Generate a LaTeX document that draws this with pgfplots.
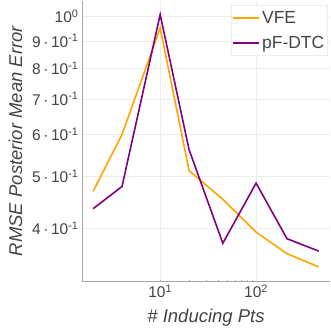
\documentclass[border=0pt]{standalone}
\usepackage{pgfplots}
\pgfplotsset{compat=1.18}
\usepackage{fontspec}
\setmainfont{Liberation Sans}

\definecolor{vfe}{HTML}{FFA500}
\definecolor{pfdtc}{HTML}{800080}
\definecolor{txt}{HTML}{444444}
\definecolor{gridc}{HTML}{EDEDED}

\begin{document}
\begin{tikzpicture}
\useasboundingbox (-82pt,-50pt) rectangle (249pt,281pt);
\begin{axis}[
    at={(0,0)}, anchor=south west,
    scale only axis,
    width=248pt, height=280pt,
    xmode=log, ymode=log,
    xmin=1.53, xmax=590,
    ymin=0.318, ymax=1.07,
    axis x line=bottom, axis y line=left,
    axis line style={gray!70, -},
    xtick={10,100},
    xticklabels={10\textsuperscript{1},10\textsuperscript{2}},
    ytick={0.4,0.5,0.6,0.7,0.8,0.9,1},
    yticklabels={4\,·\,10\textsuperscript{-1},5\,·\,10\textsuperscript{-1},6\,·\,10\textsuperscript{-1},7\,·\,10\textsuperscript{-1},8\,·\,10\textsuperscript{-1},9\,·\,10\textsuperscript{-1},10\textsuperscript{0}},
    tick label style={font=\fontsize{15.5}{15.5}\selectfont, text=txt},
    /pgf/number format/assume math mode=true,
    major tick length=0pt,
    minor tick length=2pt,
    minor tick style={gray!60},
    ymajorgrids, xmajorgrids,
    grid style={gridc, line width=0.6pt},
    xlabel={\itshape \# Inducing Pts},
    ylabel={\itshape RMSE Posterior Mean Error},
    label style={font=\fontsize{18.5}{18.5}\selectfont, text=txt},
    xlabel style={yshift=-5pt},
    ylabel style={yshift=3pt},
    legend style={at={(0.99,0.985)}, anchor=north east, draw=gridc,
        font=\fontsize{17.5}{17.5}\selectfont, text=txt, row sep=7pt,
        inner xsep=1pt, inner ysep=4pt},
    legend cell align=left,
    legend image code/.code={\draw[#1, line width=1.6pt] (0pt,0pt) -- (26pt,0pt);},
]
\addplot[vfe, line width=1.6pt] coordinates {
    (2,0.469) (4,0.600) (10,0.952) (20,0.513) (45,0.453) (100,0.393) (210,0.358) (450,0.338)
};
\addplot[pfdtc, line width=1.6pt] coordinates {
    (2,0.435) (4,0.479) (10,1.009) (20,0.562) (45,0.3745) (100,0.486) (210,0.382) (450,0.362)
};
\legend{VFE, pF-DTC}
\end{axis}
\end{tikzpicture}
\end{document}
